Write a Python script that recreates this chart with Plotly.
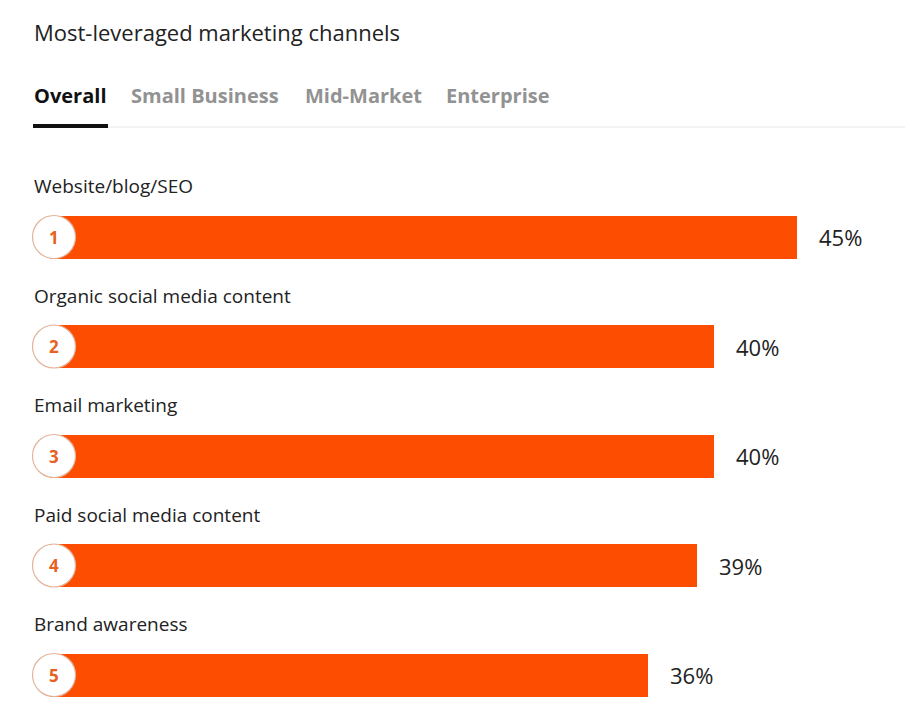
import plotly.graph_objects as go

categories = ["Website/blog/SEO", "Organic social media content", "Email marketing",
              "Paid social media content", "Brand awareness"]
values = [45, 40, 40, 39, 36]
ranks = ["1", "2", "3", "4", "5"]
tabs = ["Overall", "Small Business", "Mid-Market", "Enterprise"]
title = "Most-leveraged marketing channels"

OFF = 8  # page body margin
W, H = 913 - 2 * OFF, 716 - 2 * OFF
FONT = "Open Sans"
ORANGE = "#FD4D00"


def px(xp):
    return xp - OFF


# pixel mapping (figure coordinates)
px0, ppu = px(50.0), 16.6
yc0, ystep = px(237.0), 109.5
xr = [(0 - px0) / ppu, (W - px0) / ppu]
yr = [(H - yc0) / ystep, (0 - yc0) / ystep]

idx = list(range(len(categories)))

fig = go.Figure()
fig.add_trace(go.Bar(
    x=values, y=idx, orientation="h", width=43 / ystep,
    marker=dict(color=ORANGE, line=dict(width=0)),
    hoverinfo="skip", showlegend=False,
))

ann = []
shapes = []
cx = (px(54) - px0) / ppu
for i, (c, v, r) in enumerate(zip(categories, values, ranks)):
    ann.append(dict(x=px(32) / W, xref="paper", y=i - 51 / ystep, yref="y",
                    text=c, showarrow=False, xanchor="left", yanchor="middle",
                    font=dict(family=FONT, size=19, color="#222222")))
    ann.append(dict(x=v + 20 / ppu, xref="x", y=i, yref="y",
                    text=f"{v}%", showarrow=False, xanchor="left", yanchor="middle",
                    font=dict(family=FONT, size=22, color="#222222")))
    shapes.append(dict(type="circle", xref="x", yref="y",
                       xsizemode="pixel", ysizemode="pixel",
                       xanchor=cx, yanchor=i,
                       x0=-21.5, x1=21.5, y0=-21.5, y1=21.5,
                       fillcolor="white", line=dict(color="#E2B49A", width=1.2),
                       layer="above"))
    ann.append(dict(x=cx, xref="x", y=i, yref="y",
                    text=f"<b>{r}</b>", showarrow=False, xanchor="center", yanchor="middle",
                    font=dict(family=FONT, size=17, color="#E8601E")))

ann.append(dict(x=px(32) / W, xref="paper", y=1 - px(32) / H, yref="paper", text=title,
                showarrow=False, xanchor="left", yanchor="middle",
                font=dict(family=FONT, size=22, color="#222222")))

tab_x = [32, 129, 303, 444]
for j, (t, tx) in enumerate(zip(tabs, tab_x)):
    ann.append(dict(x=px(tx) / W, xref="paper", y=1 - px(96) / H, yref="paper",
                    text=f"<b>{t}</b>", showarrow=False, xanchor="left", yanchor="middle",
                    font=dict(family=FONT, size=20,
                              color="#111111" if j == 0 else "#929292")))

shapes.append(dict(type="line", xref="paper", yref="paper",
                   x0=px(108) / W, x1=1, y0=1 - px(127) / H, y1=1 - px(127) / H,
                   line=dict(color="#E8E8E8", width=1)))
shapes.append(dict(type="line", xref="paper", yref="paper",
                   x0=px(33) / W, x1=px(108) / W, y0=1 - px(126) / H, y1=1 - px(126) / H,
                   line=dict(color="#111111", width=4)))

fig.update_layout(
    width=W, height=H, margin=dict(l=0, r=0, t=0, b=0),
    paper_bgcolor="white", plot_bgcolor="white",
    xaxis=dict(range=xr, visible=False, fixedrange=True),
    yaxis=dict(range=yr, visible=False, fixedrange=True),
    annotations=ann, shapes=shapes, bargap=0,
)
fig.write_html("out.html")
